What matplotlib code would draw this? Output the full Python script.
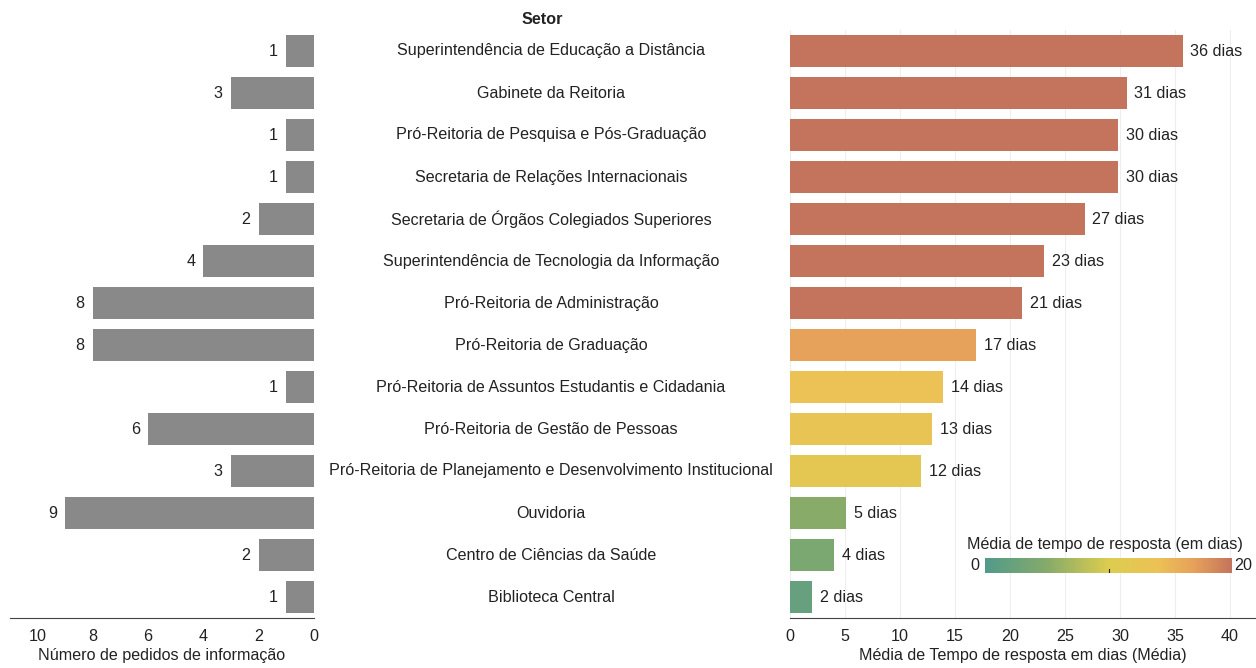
import numpy as np
import matplotlib
matplotlib.use("Agg")
import matplotlib.pyplot as plt
from matplotlib.colors import LinearSegmentedColormap, Normalize
from matplotlib.colorbar import ColorbarBase

plt.rcParams['font.family'] = ['Liberation Sans', 'DejaVu Sans']

setores = [
    "Superintendência de Educação a Distância",
    "Gabinete da Reitoria",
    "Pró-Reitoria de Pesquisa e Pós-Graduação",
    "Secretaria de Relações Internacionais",
    "Secretaria de Órgãos Colegiados Superiores",
    "Superintendência de Tecnologia da Informação",
    "Pró-Reitoria de Administração",
    "Pró-Reitoria de Graduação",
    "Pró-Reitoria de Assuntos Estudantis e Cidadania",
    "Pró-Reitoria de Gestão de Pessoas",
    "Pró-Reitoria de Planejamento e Desenvolvimento Institucional",
    "Ouvidoria",
    "Centro de Ciências da Saúde",
    "Biblioteca Central",
]
pedidos = [1, 3, 1, 1, 2, 4, 8, 8, 1, 6, 3, 9, 2, 1]
tempo_medio = [35.7, 30.6, 29.8, 29.8, 26.8, 23.1, 21.1, 16.9, 13.9, 12.9, 11.9, 5.1, 4.0, 2.0]

left_ticks = [10, 8, 6, 4, 2, 0]
right_ticks = [0, 5, 10, 15, 20, 25, 30, 35, 40]

# escala de cor (0 a 20 dias)
cmap = LinearSegmentedColormap.from_list("tempo", [
    (0.0, "#519a8b"), (0.25, "#86aa6a"), (0.5, "#dccd4f"),
    (0.7, "#ecc156"), (0.85, "#e6a05a"), (1.0, "#c4745c")])
norm = Normalize(vmin=0, vmax=20, clip=True)

W, H = 1256, 668
fig = plt.figure(figsize=(W / 100, H / 100), dpi=100)

y = np.arange(len(setores))
top_px, bot_px = 30, 618
ax_b = 1 - bot_px / H
ax_h = (bot_px - top_px) / H
fs = 11.6
txt_col = "#222222"

# painel esquerdo: número de pedidos
axl = fig.add_axes([10 / W, ax_b, 304 / W, ax_h])
axl.barh(y, pedidos, height=0.74, color="#898989")
axl.set_xlim(11, 0)
axl.set_ylim(len(setores) - 0.5, -0.5)
for yi, v in zip(y, pedidos):
    axl.text(v + 0.3, yi, str(v), ha="right", va="center", fontsize=fs, color=txt_col)
axl.set_xticks(left_ticks)
axl.set_yticks([])
for s in ["top", "left", "right"]:
    axl.spines[s].set_visible(False)
axl.spines["bottom"].set_color("#444444")
axl.tick_params(axis="x", length=0, labelsize=fs, colors=txt_col, pad=8)
axl.set_xlabel("Número de pedidos de informação", fontsize=fs, color=txt_col, labelpad=3)

# painel direito: tempo médio
axr = fig.add_axes([790 / W, ax_b, 466 / W, ax_h])
axr.barh(y, tempo_medio, height=0.74, color=cmap(norm(tempo_medio)), zorder=2)
axr.set_xlim(0, 466 / 11)
axr.set_ylim(len(setores) - 0.5, -0.5)
for yi, v in zip(y, tempo_medio):
    axr.text(v + 0.7, yi, f"{round(v)} dias", ha="left", va="center", fontsize=fs, color=txt_col, zorder=3)
axr.set_xticks(right_ticks)
axr.set_yticks([])
axr.grid(axis="x", color="#eeeeee", linewidth=0.8, zorder=0)
for s in ["top", "left", "right"]:
    axr.spines[s].set_visible(False)
axr.spines["bottom"].set_color("#444444")
axr.tick_params(axis="x", length=0, labelsize=fs, colors=txt_col, pad=8)
axr.set_xlabel("Média de Tempo de resposta em dias (Média)", fontsize=fs, color=txt_col, labelpad=3)

# nomes dos setores no centro
fig.text(542 / W, 1 - 20 / H, "Setor", ha="center", va="center", fontsize=fs, fontweight="bold", color=txt_col)
for yi, nome in zip(y, setores):
    ypx = 51 + 42 * yi
    fig.text(551 / W, 1 - ypx / H, nome, ha="center", va="center", fontsize=fs, color=txt_col)

# legenda de cor
cax = fig.add_axes([985 / W, 1 - 573 / H, 247 / W, 15 / H])
cb = ColorbarBase(cax, cmap=cmap, norm=norm, orientation="horizontal")
cb.outline.set_visible(False)
cb.set_ticks([])
cax.plot([10, 10], [0, 0.25], color="#222222", lw=0.8)
fig.text(1105 / W, 1 - 545 / H, "Média de tempo de resposta (em dias)", ha="center", va="center",
         fontsize=fs, color=txt_col)
fig.text(979 / W, 1 - 565 / H, "0", ha="right", va="center", fontsize=fs, color=txt_col)
fig.text(1234 / W, 1 - 565 / H, "20", ha="left", va="center", fontsize=fs, color=txt_col)

fig.savefig("out.png", dpi=100, facecolor="white")
